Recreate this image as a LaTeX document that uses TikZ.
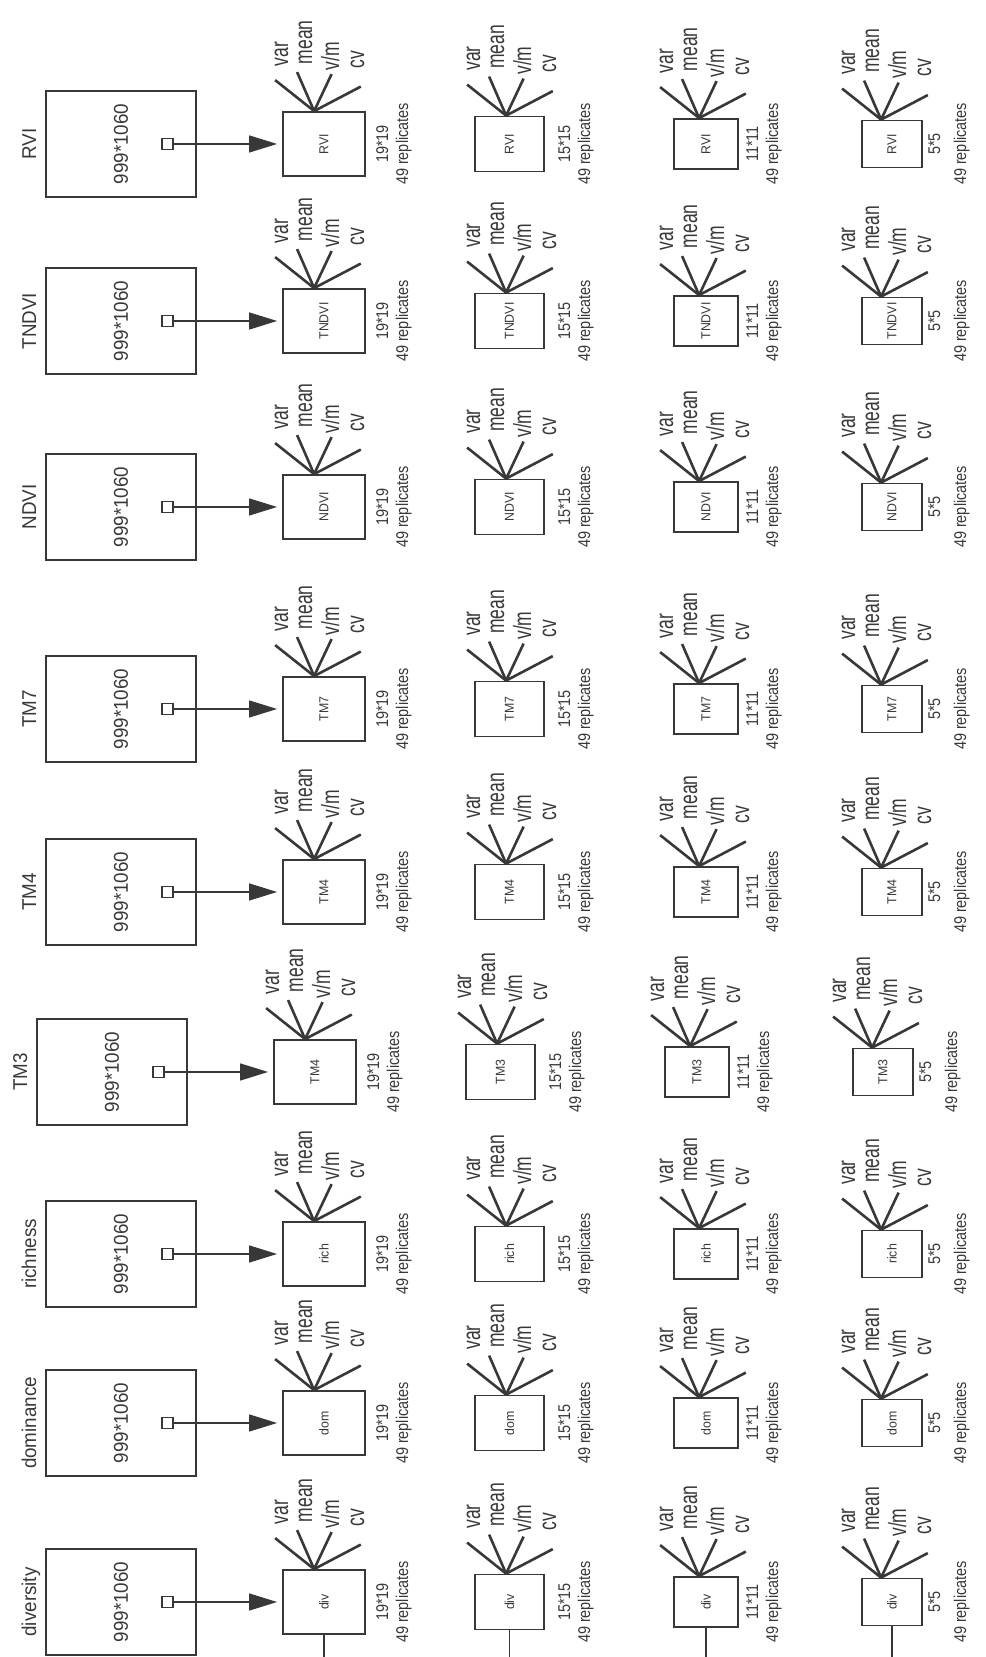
\documentclass[tikz,border=0pt]{standalone}
\usepackage{fontspec}
\setmainfont{Liberation Sans}
\newfontfamily\namefont[FakeStretch=0.94]{Liberation Sans}
\newfontfamily\statfont[FakeStretch=0.70]{Liberation Sans}
\newfontfamily\repfont[FakeStretch=0.85]{Liberation Sans}
\newfontfamily\cellfont[FakeStretch=0.95]{Liberation Sans}
\usetikzlibrary{arrows.meta,calc}
\definecolor{ink}{HTML}{383838}

\begin{document}
\begin{tikzpicture}[
  x=1bp, y=1bp, rotate=90, transform shape, line width=1.8bp, draw=ink, text=ink,
  flow/.style={draw=ink, line width=1.3bp, shorten >=5bp, -{Triangle[length=28bp,width=17bp]}},
  grid/.style={draw=ink, line width=1.8bp, minimum width=106bp, minimum height=150bp,
    inner sep=0pt, font=\namefont\fontsize{20bp}{24bp}\selectfont},
  cell/.style={draw=ink, line width=1.8bp, inner sep=0pt,
    font=\cellfont\fontsize{13bp}{15bp}\selectfont},
  pix/.style={draw=ink, line width=1.2bp, minimum size=11bp, inner sep=0pt},
  fan/.style={draw=ink, line width=2.6bp},
  stat/.style={anchor=base west, inner sep=0pt, font=\statfont\fontsize{25bp}{30bp}\selectfont},
  size/.style={anchor=base, inner sep=0pt, font=\repfont\fontsize{17bp}{20bp}\selectfont},
  head/.style={anchor=base, inner sep=0pt, font=\namefont\fontsize{20bp}{24bp}\selectfont},
]
  % Landscape sheet, turned a quarter turn; x runs along the columns.
  \useasboundingbox (0,0) rectangle (1657,-985);

  % Columns: position, title, first cell text, cell text, shift.
  \foreach \col/\cu/\lab/\first/\short/\dv in {1/55/diversity/div/div/0,
      2/234/dominance/dom/dom/0, 3/403/richness/rich/rich/0, 4/585/TM3/TM4/TM3/-9,
      5/765/TM4/TM4/TM4/0, 6/948/TM7/TM7/TM7/0, 7/1150/NDVI/NDVI/NDVI/0,
      8/1336/TNDVI/TNDVI/TNDVI/0, 9/1513/RVI/RVI/RVI/0} {
    \node[head] (t\col) at (\cu,{-36-(\dv)}) {\lab};
    \node[grid] (g\col) at (\cu,{-121-(\dv)}) {999*1060};
    \node[pix] (p\col) at (\cu,{-167.5-(\dv)}) {};

    % Rows of windows: top, height, width, fan offset, size, label baselines.
    \foreach \row/\vt/\hh/\ww/\ff/\sz/\ys/\yr in {1/283/82/64/32/19*19/388/408,
        2/475/69/55/32/15*15/570/590, 3/674/64/50/26/11*11/758/778,
        4/862/60/47/20/5*5/940/966} {
      \node[cell, minimum width=\ww bp, minimum height=\hh bp] (b\col-\row)
        at (\cu,{-\vt-\hh/2-(\dv)}) {\ifnum\row=1 \first\else\short\fi};
      \coordinate (o\col-\row) at ($(b\col-\row.north east)+(0,-\ff)$);
      \coordinate (e\col-\row-1) at ($(o\col-\row)+(31,39)$);
      \coordinate (e\col-\row-2) at ($(o\col-\row)+(39,17)$);
      \coordinate (e\col-\row-3) at ($(o\col-\row)+(37,-17.5)$);
      \coordinate (e\col-\row-4) at ($(o\col-\row)+(24.5,-46.7)$);
      \foreach \k in {1,...,4} \draw[fan] (o\col-\row) -- (e\col-\row-\k);
      \node[stat] (s\col-\row-1) at ($(o\col-\row)+(44,26)$) {var};
      \node[stat] (s\col-\row-2) at ($(o\col-\row)+(46,2)$) {mean};
      \node[stat] (s\col-\row-3) at ($(o\col-\row)+(40,-25)$) {v/m};
      \node[stat] (s\col-\row-4) at ($(o\col-\row)+(42,-50)$) {cv};
      \node[size] (z\col-\row) at (\cu,{-\ys-(\dv)}) {\sz};
      \node[size] (n\col-\row) at (\cu,{-\yr-(\dv)}) {49 replicates};
      % first column runs off the sheet edge
      \ifnum\col=1
        \coordinate (cut\row) at (0,{-\vt-\hh/2});
        \draw (b\col-\row.west) -- (cut\row);
      \fi
    }
    \draw[flow] (p\col) -- (b\col-1);
  }
\end{tikzpicture}
\end{document}
